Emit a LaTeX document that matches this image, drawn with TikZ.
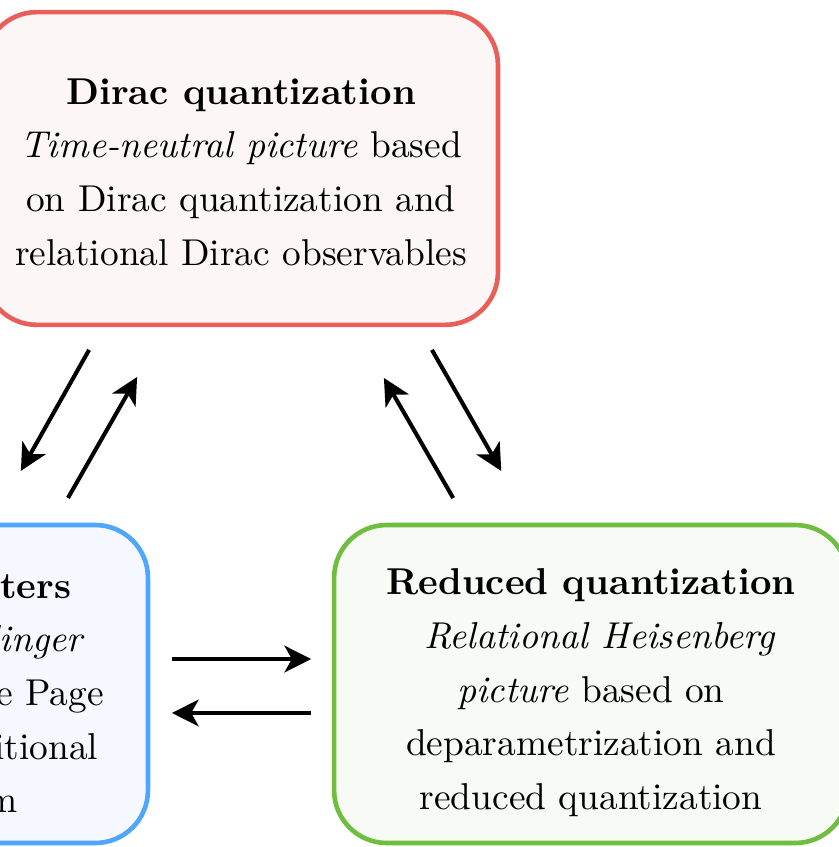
\documentclass[tikz,border=0pt]{standalone}
\usetikzlibrary{arrows.meta}

\definecolor{diracline}{RGB}{234,94,90}
\definecolor{diracfill}{RGB}{252,246,246}
\definecolor{pwline}{RGB}{80,166,250}
\definecolor{pwfill}{RGB}{245,249,255}
\definecolor{redline}{RGB}{112,190,64}
\definecolor{redfill}{RGB}{248,250,246}

\tikzset{
    quantbox/.style={draw, rounded corners=0.5cm, line width=1.25pt, outer sep=0pt, inner sep=0pt,
        minimum width=4.88cm, minimum height=3.02cm, align=center, font=\fontsize{10.1}{14.5}\selectfont},
    arr/.style={-{Stealth[length=7.2pt,width=7.2pt,inset=2pt]}, line width=1.1pt}
}

\begin{document}
\begin{tikzpicture}
        \useasboundingbox (0,0) rectangle (7.968,-8.044);
        % the three pictures
        \node [quantbox, draw=diracline, fill=diracfill, minimum height=2.97cm] (dirac) at (2.289,-1.600)
            {\rule{0pt}{8.8pt}\textbf{Dirac quantization}\\ \textit{Time-neutral picture} based\\ on Dirac quantization and\\ relational Dirac observables};
        \node [quantbox, draw=pwline, fill=pwfill] (pw) at (-1.035,-6.496)
            {\rule{0pt}{11.8pt}\textbf{Page and Wootters}\\ \hspace*{4.9pt}\textit{Relational Schrödinger}\\ picture based on the Page\\ and Wootters conditional\\ state formalism};
        \node [quantbox, draw=redline, fill=redfill] (red) at (5.613,-6.496)
            {\rule{0pt}{11.8pt}\textbf{Reduced quantization}\\ \hspace*{4.9pt}\textit{Relational Heisenberg}\\ \textit{picture} based on\\ deparametrization and\\ reduced quantization};

        % maps between them
        \draw [arr, shorten <=0.273cm, shorten >=0.590cm] ([xshift=-1.309cm]dirac.south) -- ([xshift=0.944cm]pw.north);
        \draw [arr, shorten <=0.296cm, shorten >=0.570cm] ([xshift=1.534cm]pw.north) -- ([xshift=-0.704cm]dirac.south);
        \draw [arr, shorten <=0.296cm, shorten >=0.582cm] ([xshift=-1.161cm]red.north) -- ([xshift=1.066cm]dirac.south);
        \draw [arr, shorten <=0.274cm, shorten >=0.591cm] ([xshift=1.677cm]dirac.south) -- ([xshift=-0.559cm]red.north);
        \draw [arr, shorten <=0.228cm, shorten >=0.218cm] ([yshift=0.237cm]pw.east) -- ([yshift=0.237cm]red.west);
        \draw [arr, shorten <=0.218cm, shorten >=0.228cm] ([yshift=-0.275cm]red.west) -- ([yshift=-0.275cm]pw.east);
    \end{tikzpicture}
\end{document}
